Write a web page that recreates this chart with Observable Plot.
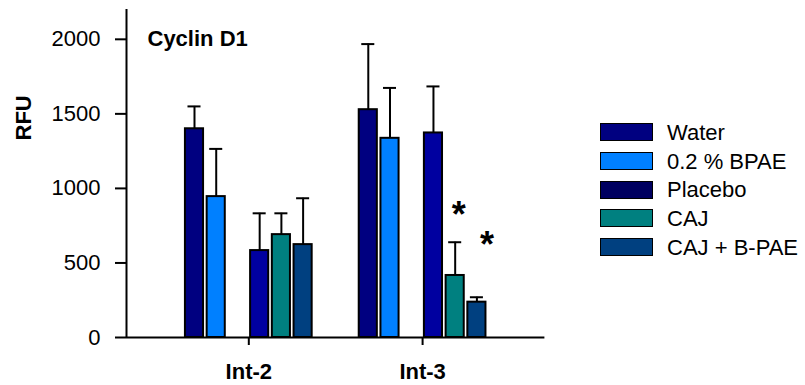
<!DOCTYPE html>
<html>
<head>
<meta charset="utf-8">
<script src="https://cdn.jsdelivr.net/npm/d3@7"></script>
<script src="https://cdn.jsdelivr.net/npm/@observablehq/plot@0.6"></script>
<style>
  html, body { margin: 0; padding: 0; background: #fff; }
  #wrap { position: relative; width: 805px; height: 385px; font-family: "Liberation Sans", Arial, sans-serif; }
  #legend { position: absolute; left: 0; top: 0; }
  .sw { position: absolute; box-sizing: border-box; border: 1.5px solid #000; width: 53px; height: 18px; }
  .lt { position: absolute; font-size: 22px; line-height: 22px; color: #000; white-space: nowrap; }
</style>
</head>
<body>
<div id="wrap"><div id="legend"></div></div>
<script>
// ---- data ----
const groups = ["Int-2", "Int-3"];
const series = ["Water", "0.2 % BPAE", "Placebo", "CAJ", "CAJ + B-PAE"];
// order of bar slots inside a group (one slot left empty)
const slotOrder = ["Water", "0.2 % BPAE", null, "Placebo", "CAJ", "CAJ + B-PAE"];
const barColors = ["#000080", "#0080ff", "#0000a0", "#008080", "#004080"];
const legendColors = ["#000080", "#0080ff", "#000060", "#008080", "#004080"];
const meanInt2 = [1400, 945, 583, 690, 623];
const meanInt3 = [1528, 1336, 1372, 416, 237];
const upperInt2 = [1550, 1265, 833, 833, 934];
const upperInt3 = [1968, 1674, 1684, 639, 270];
const yTicks = [0, 500, 1000, 1500, 2000];
const starCAJ = [{group: "Int-3", series: "CAJ", y: 874}];
const starCAJB = [{group: "Int-3", series: "CAJ + B-PAE", y: 673}];
const title = "Cyclin D1";
const yLabel = "RFU";

// ---- build ----
const means = [meanInt2, meanInt3];
const uppers = [upperInt2, upperInt3];
const stride = slotOrder.length + 2;
const slotX = (g, s) => groups.indexOf(g) * stride + slotOrder.indexOf(s);
const rows = groups.flatMap((g, gi) => series.map((s, si) => ({
  group: g, series: s, mean: means[gi][si], upper: uppers[gi][si],
  x1: slotX(g, s), color: barColors[si]
})));
const groupCenters = groups.map((g, gi) => gi * stride + slotOrder.length / 2);
const pad = 2.63;
const xDomain = [-pad, (groups.length - 1) * stride + slotOrder.length + pad];
const font = "'Liberation Sans', Arial, sans-serif";

const chart = Plot.plot({
  width: 805,
  height: 385,
  marginLeft: 126,
  marginRight: 260.6,
  marginTop: 9,
  marginBottom: 48,
  style: {fontFamily: font, fontSize: "22px", color: "#000", background: "transparent", overflow: "visible"},
  x: {domain: xDomain, axis: null},
  y: {domain: [0, 2200], axis: null},
  color: {type: "identity"},
  marks: [
    Plot.rect(rows, {x1: "x1", x2: d => d.x1 + 1, y1: 0, y2: "mean", fill: "color",
      stroke: "#000", strokeWidth: 2, insetLeft: 1.8, insetRight: 1.8}),
    Plot.ruleX(rows, {x: d => d.x1 + 0.5, y1: "mean", y2: "upper", stroke: "#000", strokeWidth: 2}),
    Plot.ruleY(rows, {y: "upper", x1: d => d.x1 + 0.2, x2: d => d.x1 + 0.8, stroke: "#000", strokeWidth: 2}),
    Plot.text(starCAJ, {x: d => slotX(d.group, d.series) + 0.5, y: "y", text: () => "*",
      fontSize: 36, fontWeight: "bold", dx: 3.5, dy: 8}),
    Plot.text(starCAJB, {x: d => slotX(d.group, d.series) + 0.5, y: "y", text: () => "*",
      fontSize: 36, fontWeight: "bold", dx: 10, dy: 8}),
    Plot.ruleY([0], {stroke: "#000", strokeWidth: 2}),
    Plot.ruleX([xDomain[0]], {stroke: "#000", strokeWidth: 2}),
    Plot.axisY(yTicks, {tickSize: 11, tickPadding: 15, strokeWidth: 2, fontSize: 22, label: null,
      tickFormat: d => String(d)}),
    Plot.axisX(groupCenters, {tickSize: 8, tickPadding: 18, strokeWidth: 2, fontSize: 22, fontWeight: "bold",
      tickFormat: d => groups[groupCenters.indexOf(d)], label: null}),
    Plot.text([yLabel], {text: d => d, frameAnchor: "left", rotate: -90, dx: -103, dy: -33,
      fontSize: 22, fontWeight: "bold"}),
    Plot.text([title], {text: d => d, frameAnchor: "top-left", textAnchor: "start", lineAnchor: "top",
      dx: 21, dy: 21, fontSize: 22, fontWeight: "bold"})
  ]
});
const wrap = document.getElementById("wrap");
wrap.insertBefore(chart, wrap.firstChild);

// ---- legend ----
const legend = document.getElementById("legend");
series.forEach((s, i) => {
  const top = 123.3 + i * 28.6;
  const sw = document.createElement("div");
  sw.className = "sw";
  sw.style.left = "600px";
  sw.style.top = top + "px";
  sw.style.background = legendColors[i];
  legend.appendChild(sw);
  const t = document.createElement("div");
  t.className = "lt";
  t.style.left = "667px";
  t.style.top = (top - 1.2) + "px";
  t.textContent = s;
  legend.appendChild(t);
});
</script>
</body>
</html>
